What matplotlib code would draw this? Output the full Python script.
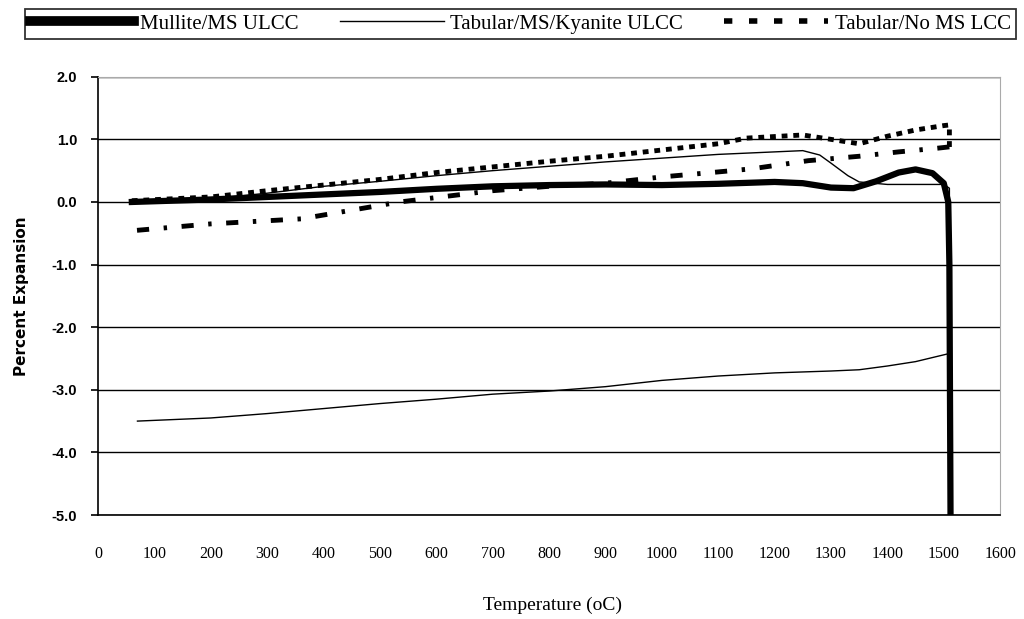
import matplotlib
matplotlib.use("Agg")
import matplotlib.pyplot as plt
from matplotlib.lines import Line2D

# Mullite/MS ULCC (thick solid)
mul_t = [60, 200, 300, 400, 500, 600, 700, 800, 900, 1000, 1100, 1200, 1250, 1300,
         1340, 1380, 1420, 1450, 1480, 1500, 1508, 1510, 1512]
mul_p = [0.0, 0.04, 0.08, 0.12, 0.16, 0.21, 0.25, 0.27, 0.28, 0.27, 0.29, 0.32, 0.3, 0.23,
         0.22, 0.33, 0.47, 0.52, 0.46, 0.3, 0.0, -1.0, -5.0]

# Tabular/MS/Kyanite ULCC (thin solid): heating then cooling
kya_t = [60, 200, 300, 400, 500, 600, 700, 800, 900, 1000, 1100, 1200, 1250, 1280,
         1300, 1330, 1350, 1400, 1500, 1510, 1510,
         1450, 1400, 1350, 1300, 1200, 1100, 1000, 900, 800, 700, 600, 500, 400, 300, 200, 70]
kya_p = [0.0, 0.05, 0.14, 0.25, 0.33, 0.42, 0.5, 0.57, 0.64, 0.7, 0.76, 0.8, 0.82, 0.75,
         0.62, 0.42, 0.32, 0.28, 0.28, 0.22, -2.42,
         -2.55, -2.62, -2.68, -2.7, -2.73, -2.78, -2.85, -2.95, -3.02, -3.07, -3.15, -3.22,
         -3.3, -3.38, -3.45, -3.5]

# Tabular/No MS LCC (thick dashed): heating
tab_ht = [60, 200, 300, 400, 500, 600, 700, 800, 900, 1000, 1100, 1150, 1250, 1300,
          1350, 1400, 1450, 1500, 1510, 1510]
tab_hp = [0.02, 0.08, 0.18, 0.27, 0.36, 0.47, 0.56, 0.65, 0.73, 0.83, 0.93, 1.02, 1.07, 1.0,
          0.93, 1.05, 1.15, 1.22, 1.23, 0.85]
# cooling
tab_ct = [1510, 1490, 1420, 1350, 1260, 1160, 1100, 1000, 900, 800, 700, 535, 360, 200, 60]
tab_cp = [0.88, 0.86, 0.8, 0.73, 0.66, 0.53, 0.48, 0.4, 0.3, 0.25, 0.18, 0.0, -0.27, -0.35, -0.46]

fig = plt.figure(figsize=(10.24, 6.19), dpi=100)
ax = fig.add_axes([0.0957, 0.168, 0.881, 0.708])

ax.plot(mul_t, mul_p, color='black', lw=4.5, solid_joinstyle='round')
ax.plot(kya_t, kya_p, color='black', lw=1.0)
ax.plot(tab_ht, tab_hp, color='black', lw=3.5, linestyle=(0, (1.2, 1.2)))
ax.plot(tab_ct, tab_cp, color='black', lw=3.5, linestyle=(0, (2.5, 3, 0.7, 3)))

ax.set_xlim(0, 1600)
ax.set_ylim(-5, 2)
ax.set_xticks(range(0, 1700, 100))
ax.set_yticks(range(-5, 3))
ax.set_yticklabels(['%.1f' % v for v in range(-5, 3)], fontname='Liberation Sans',
                   fontsize=10.5, fontweight='bold')
ax.set_xticklabels([str(v) for v in range(0, 1700, 100)], fontname='Liberation Serif', fontsize=11.5)
ax.tick_params(axis='x', length=0, pad=22)
ax.tick_params(axis='y', length=5, width=1.2, pad=10)
ax.yaxis.grid(True, color='black', lw=1.0)
ax.set_axisbelow(True)
ax.spines['left'].set_linewidth(1.2)
ax.spines['bottom'].set_linewidth(1.2)
ax.spines['top'].set_color('#aaaaaa')
ax.spines['right'].set_color('#aaaaaa')

ax.set_ylabel('Percent Expansion', fontname='DejaVu Sans', fontweight='bold', fontsize=11, labelpad=16)
fig.text(0.54, 0.015, 'Temperature (oC)', ha='center', fontname='Liberation Serif', fontsize=14)

handles = [Line2D([], [], color='black', lw=7),
           Line2D([], [], color='black', lw=1.0),
           Line2D([], [], color='black', lw=4, linestyle=(0, (1.5, 3)))]
labels = ['Mullite/MS ULCC', 'Tabular/MS/Kyanite ULCC', 'Tabular/No MS LCC']
leg = fig.legend(handles, labels, loc='lower left', bbox_to_anchor=(0.024, 0.937, 0.968, 0.05),
                 mode='expand', ncol=3,
                 frameon=True, fancybox=False, edgecolor='black', handlelength=5,
                 handletextpad=0.3, columnspacing=1.0, borderpad=0.25, borderaxespad=0,
                 prop={'family': 'Liberation Serif', 'size': 15})
leg.get_frame().set_linewidth(1.3)

fig.savefig('out.png', dpi=100)
